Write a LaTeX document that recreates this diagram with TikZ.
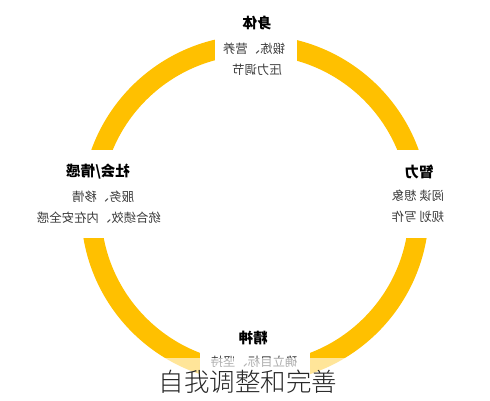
\documentclass[tikz,border=0pt]{standalone}
\usepackage{fontspec}
\setmainfont{Noto Sans CJK SC}
\newfontfamily\cjklight{Noto Sans CJK SC Light}
\usepackage{graphicx}
\definecolor{ringgold}{HTML}{FFC000}
\definecolor{bodygray}{HTML}{3A3A3A}
\newcommand{\mirrortext}[1]{\reflectbox{#1}}
\tikzset{
  gapbox/.style={fill=white,inner sep=0pt},
  headtext/.style={font=\fontsize{14.5}{16}\selectfont\bfseries,inner sep=0pt},
  bodytext/.style={font=\fontsize{12.4}{14}\selectfont,text=bodygray,inner sep=0pt}
}

\begin{document}
\begin{tikzpicture}[x=1pt,y=-1pt]
  \useasboundingbox (0,0) rectangle (490,400);
  % the ring and its four openings
  \draw[ringgold,line width=20pt] (255,209) circle [radius=164];
  \node[gapbox,minimum width=82pt,minimum height=50pt] (gaptop) at (256,45) {};
  \node[gapbox,minimum width=60pt,minimum height=88pt] (gapleft) at (95,194) {};
  \node[gapbox,minimum width=60pt,minimum height=88pt] (gapright) at (416,194) {};
  \node[gapbox,minimum width=110pt,minimum height=40pt] (gapbottom) at (255,365) {};
  % top
  \node[headtext] (shenti) at (257,23) {\mirrortext{身体}};
  \node[bodytext] (shentiA) at (254,49) {\mirrortext{锻炼、营养}};
  \node[bodytext] (shentiB) at (257,70) {\mirrortext{压力调节}};
  % right
  \node[headtext] (zhili) at (419,172) {\mirrortext{智力}};
  \node[bodytext] (zhiliA) at (418,196) {\mirrortext{阅读 想象}};
  \node[bodytext] (zhiliB) at (418,217) {\mirrortext{规划 写作}};
  % left
  \node[headtext] (shehui) at (98,172) {\mirrortext{社会/情感}};
  \node[bodytext] (shehuiA) at (103,197) {\mirrortext{服务、移情}};
  \node[bodytext] (shehuiB) at (99,218) {\mirrortext{统合绩效、内在安全感}};
  % bottom
  \node[headtext] (jingshen) at (253,338) {\mirrortext{精神}};
  \node[bodytext] (jingshenA) at (254,362) {\mirrortext{确立目标、坚持}};
  % caption over a pale band
  \fill[white,opacity=0.6] (0,358) rectangle (490,400);
  \node[font=\cjklight\fontsize{25.5}{28}\selectfont,text=black!85,inner sep=0pt] (motto) at (248,382) {自我调整和完善};
\end{tikzpicture}
\end{document}
